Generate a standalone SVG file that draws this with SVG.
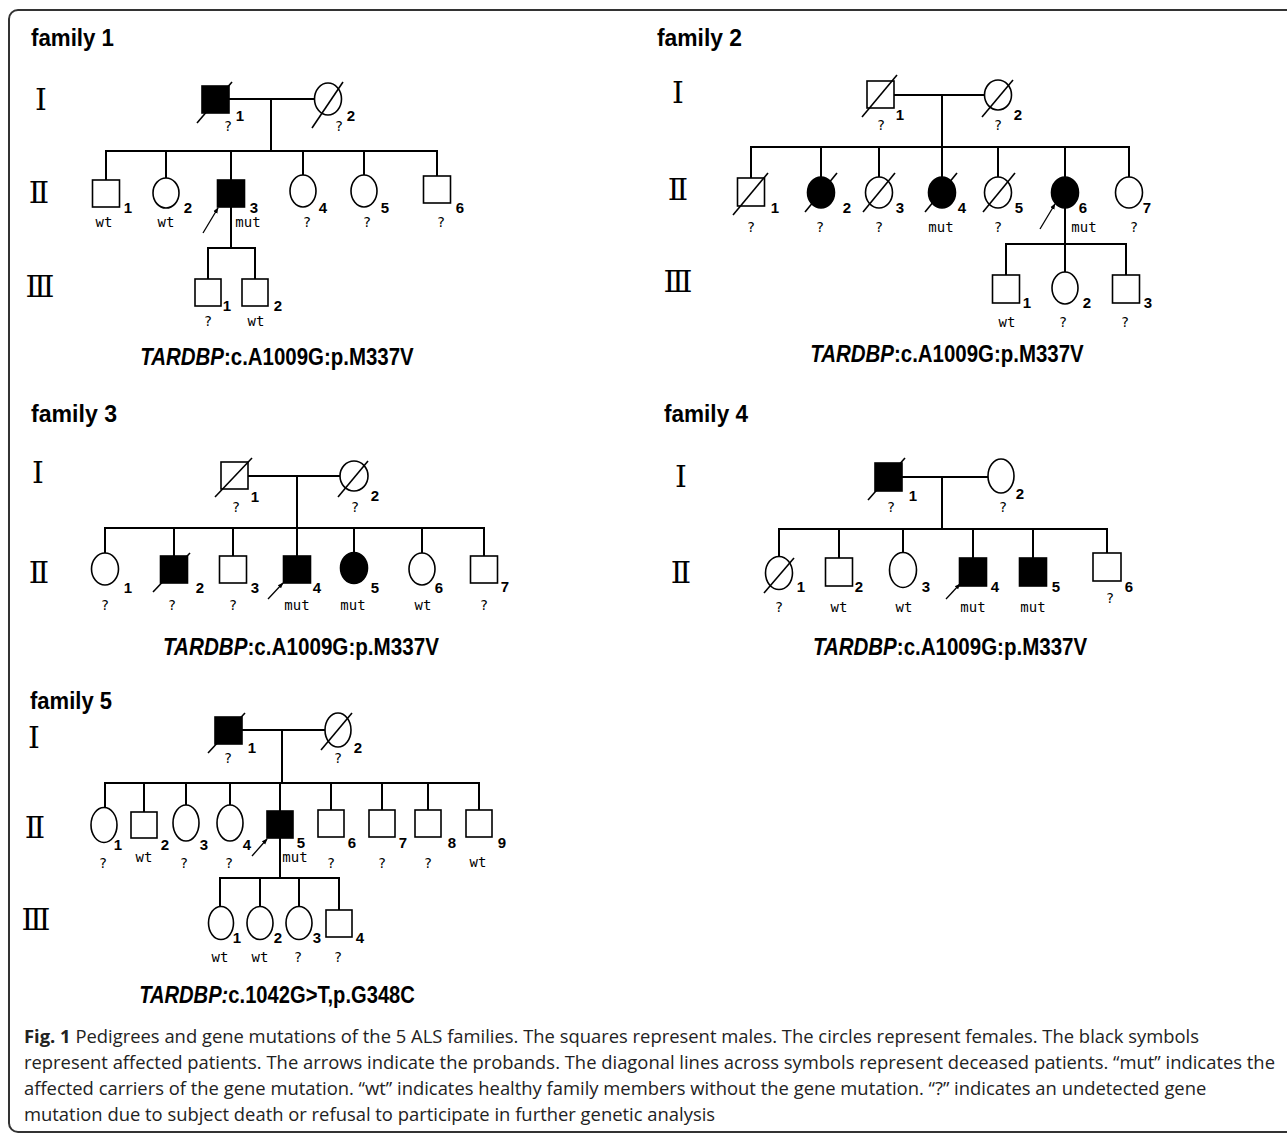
<svg xmlns="http://www.w3.org/2000/svg" width="1287" height="1134" viewBox="0 0 1287 1134">
<defs>
<style>
.ln{stroke:#000;stroke-width:2;fill:none}
.sq{stroke:#000;stroke-width:1.6;fill:#fff}
.aff{fill:#000}
.dec{stroke:#000;stroke-width:1.6}
.arw{stroke:#000;stroke-width:1.3;marker-end:url(#ah)}
.num{font-family:'Liberation Sans',Arial,sans-serif;font-weight:bold;font-size:15px;text-anchor:middle}
.lab{font-family:'DejaVu Sans Mono','Liberation Mono',monospace;font-size:14px;text-anchor:middle}
.rom{font-family:'DejaVu Serif','Noto Sans CJK SC',serif;font-size:30px;text-anchor:middle}
.ttl{font-family:'Liberation Sans',Arial,sans-serif;font-weight:bold;font-size:24px}
.gene{font-family:'Liberation Sans',Arial,sans-serif;font-weight:bold;font-size:24px;text-anchor:middle}
.cap{font-family:'Open Sans','Liberation Sans',sans-serif;font-size:18.4px;fill:#222}
</style>
<marker id="ah" viewBox="0 0 8 8" refX="7" refY="4" markerWidth="6" markerHeight="6" orient="auto" markerUnits="userSpaceOnUse">
<path d="M0,1 L8,4 L0,7 z" fill="#000"/>
</marker>
</defs>
<rect x="0" y="0" width="1287" height="1134" fill="#fff"/>
<rect x="9" y="10" width="1300" height="1122" rx="9" fill="none" stroke="#333" stroke-width="2"/>

<!-- ========== FAMILY 1 ========== -->
<g id="family1">
<text class="ttl" x="31" y="46" textLength="83" lengthAdjust="spacingAndGlyphs">family 1</text>
<text class="rom" x="41" y="110">Ⅰ</text>
<text class="rom" x="39" y="203">Ⅱ</text>
<text class="rom" x="40" y="297">Ⅲ</text>
<g id="f1-connectors" class="ln">
<line x1="229" y1="99" x2="315" y2="99"/>
<line x1="271" y1="99" x2="271" y2="151"/>
<line x1="105" y1="151" x2="438" y2="151"/>
<line x1="106" y1="151" x2="106" y2="180"/>
<line x1="166" y1="151" x2="166" y2="178"/>
<line x1="231" y1="151" x2="231" y2="180"/>
<line x1="303" y1="151" x2="303" y2="175"/>
<line x1="364" y1="151" x2="364" y2="175"/>
<line x1="437" y1="151" x2="437" y2="176"/>
<line x1="231" y1="207" x2="231" y2="248"/>
<line x1="207" y1="248" x2="256" y2="248"/>
<line x1="208" y1="248" x2="208" y2="279"/>
<line x1="255" y1="248" x2="255" y2="279"/>
</g>
<g id="f1-I-1"><rect class="sq aff" x="202" y="86" width="27" height="27"/><line class="dec" x1="197" y1="123" x2="232" y2="82"/><text class="num" x="240" y="121">1</text><text class="lab" x="228" y="131">?</text></g>
<g id="f1-I-2"><ellipse class="sq" cx="328" cy="99" rx="13.5" ry="16"/><line class="dec" x1="312" y1="128" x2="343" y2="82"/><text class="num" x="351" y="121">2</text><text class="lab" x="339" y="131">?</text></g>
<g id="f1-II-1"><rect class="sq" x="92.5" y="180" width="27" height="27"/><text class="num" x="128" y="213">1</text><text class="lab" x="104" y="227">wt</text></g>
<g id="f1-II-2"><ellipse class="sq" cx="166" cy="193" rx="13" ry="15"/><text class="num" x="188" y="213">2</text><text class="lab" x="166" y="227">wt</text></g>
<g id="f1-II-3"><rect class="sq aff" x="217.5" y="180" width="27" height="27"/><line class="arw" x1="203" y1="233" x2="218" y2="208"/><text class="num" x="254" y="213">3</text><text class="lab" x="248" y="227">mut</text></g>
<g id="f1-II-4"><ellipse class="sq" cx="303" cy="191" rx="13" ry="16"/><text class="num" x="323" y="213">4</text><text class="lab" x="307" y="227">?</text></g>
<g id="f1-II-5"><ellipse class="sq" cx="364" cy="191" rx="13" ry="16"/><text class="num" x="385" y="213">5</text><text class="lab" x="367" y="227">?</text></g>
<g id="f1-II-6"><rect class="sq" x="423.5" y="176" width="27" height="27"/><text class="num" x="460" y="213">6</text><text class="lab" x="441" y="227">?</text></g>
<g id="f1-III-1"><rect class="sq" x="195" y="279" width="26" height="27"/><text class="num" x="227" y="311">1</text><text class="lab" x="208" y="326">?</text></g>
<g id="f1-III-2"><rect class="sq" x="242" y="279" width="26" height="27"/><text class="num" x="278" y="311">2</text><text class="lab" x="256" y="326">wt</text></g>
<text class="gene" transform="translate(277,365) scale(0.852,1)"><tspan font-style="italic">TARDBP</tspan>:c.A1009G:p.M337V</text>
</g>

<!-- ========== FAMILY 2 ========== -->
<g id="family2">
<text class="ttl" x="657" y="46" textLength="85" lengthAdjust="spacingAndGlyphs">family 2</text>
<text class="rom" x="678" y="103">Ⅰ</text>
<text class="rom" x="678" y="200">Ⅱ</text>
<text class="rom" x="678" y="292">Ⅲ</text>
<g id="f2-connectors" class="ln">
<line x1="894" y1="95" x2="985" y2="95"/>
<line x1="942" y1="95" x2="942" y2="147"/>
<line x1="750" y1="147" x2="1130" y2="147"/>
<line x1="751" y1="147" x2="751" y2="178"/>
<line x1="821" y1="147" x2="821" y2="177"/>
<line x1="879" y1="147" x2="879" y2="177"/>
<line x1="942" y1="147" x2="942" y2="177"/>
<line x1="998" y1="147" x2="998" y2="177"/>
<line x1="1065" y1="147" x2="1065" y2="177"/>
<line x1="1129" y1="147" x2="1129" y2="177"/>
<line x1="1065" y1="208" x2="1065" y2="244"/>
<line x1="1005" y1="244" x2="1127" y2="244"/>
<line x1="1006" y1="244" x2="1006" y2="275"/>
<line x1="1065" y1="244" x2="1065" y2="272"/>
<line x1="1126" y1="244" x2="1126" y2="275"/>
</g>
<g id="f2-I-1"><rect class="sq" x="867" y="81" width="27" height="27"/><line class="dec" x1="862" y1="117" x2="897" y2="75"/><text class="num" x="900" y="120">1</text><text class="lab" x="881" y="130">?</text></g>
<g id="f2-I-2"><ellipse class="sq" cx="998" cy="95" rx="13.5" ry="15"/><line class="dec" x1="982" y1="117" x2="1013" y2="80"/><text class="num" x="1018" y="120">2</text><text class="lab" x="998" y="130">?</text></g>
<g id="f2-II-1"><rect class="sq" x="737.5" y="178" width="27" height="28"/><line class="dec" x1="733" y1="215" x2="768" y2="173"/><text class="num" x="775" y="213">1</text><text class="lab" x="751" y="232">?</text></g>
<g id="f2-II-2"><ellipse class="sq aff" cx="821" cy="192.5" rx="13.5" ry="15.5"/><line class="dec" x1="805" y1="212" x2="837" y2="173"/><text class="num" x="847" y="213">2</text><text class="lab" x="820" y="232">?</text></g>
<g id="f2-II-3"><ellipse class="sq" cx="879" cy="192.5" rx="13.5" ry="15.5"/><line class="dec" x1="863" y1="212" x2="895" y2="173"/><text class="num" x="900" y="213">3</text><text class="lab" x="879" y="232">?</text></g>
<g id="f2-II-4"><ellipse class="sq aff" cx="942" cy="192.5" rx="13.5" ry="15.5"/><line class="dec" x1="925" y1="212" x2="957" y2="173"/><text class="num" x="962" y="213">4</text><text class="lab" x="941" y="232">mut</text></g>
<g id="f2-II-5"><ellipse class="sq" cx="998" cy="192.5" rx="13.5" ry="15.5"/><line class="dec" x1="983" y1="212" x2="1015" y2="173"/><text class="num" x="1019" y="213">5</text><text class="lab" x="998" y="232">?</text></g>
<g id="f2-II-6"><ellipse class="sq aff" cx="1065" cy="192.5" rx="13.5" ry="15.5"/><line class="arw" x1="1040" y1="229" x2="1055" y2="204"/><text class="num" x="1083" y="213">6</text><text class="lab" x="1084" y="232">mut</text></g>
<g id="f2-II-7"><ellipse class="sq" cx="1129" cy="192.5" rx="13.5" ry="15.5"/><text class="num" x="1147" y="213">7</text><text class="lab" x="1134" y="232">?</text></g>
<g id="f2-III-1"><rect class="sq" x="992.5" y="275" width="27" height="28"/><text class="num" x="1027" y="308">1</text><text class="lab" x="1007" y="327">wt</text></g>
<g id="f2-III-2"><ellipse class="sq" cx="1065" cy="288" rx="13" ry="16"/><text class="num" x="1087" y="308">2</text><text class="lab" x="1063" y="327">?</text></g>
<g id="f2-III-3"><rect class="sq" x="1112.5" y="275" width="27" height="28"/><text class="num" x="1148" y="308">3</text><text class="lab" x="1125" y="327">?</text></g>
<text class="gene" transform="translate(947,362) scale(0.852,1)"><tspan font-style="italic">TARDBP</tspan>:c.A1009G:p.M337V</text>
</g>

<!-- ========== FAMILY 3 ========== -->
<g id="family3">
<text class="ttl" x="31" y="422" textLength="86" lengthAdjust="spacingAndGlyphs">family 3</text>
<text class="rom" x="38" y="483">Ⅰ</text>
<text class="rom" x="39" y="583">Ⅱ</text>
<g id="f3-connectors" class="ln">
<line x1="247" y1="476" x2="340" y2="476"/>
<line x1="297" y1="476" x2="297" y2="528"/>
<line x1="104" y1="528" x2="485" y2="528"/>
<line x1="105" y1="528" x2="105" y2="553"/>
<line x1="174" y1="528" x2="174" y2="556"/>
<line x1="233" y1="528" x2="233" y2="556"/>
<line x1="297" y1="528" x2="297" y2="556"/>
<line x1="354" y1="528" x2="354" y2="552"/>
<line x1="422" y1="528" x2="422" y2="553"/>
<line x1="484" y1="528" x2="484" y2="556"/>
</g>
<g id="f3-I-1"><rect class="sq" x="221" y="462" width="27" height="27"/><line class="dec" x1="215" y1="497" x2="252" y2="458"/><text class="num" x="255" y="502">1</text><text class="lab" x="236" y="512">?</text></g>
<g id="f3-I-2"><ellipse class="sq" cx="354" cy="476" rx="14" ry="15"/><line class="dec" x1="338" y1="497" x2="368" y2="461"/><text class="num" x="375" y="501">2</text><text class="lab" x="355" y="512">?</text></g>
<g id="f3-II-1"><ellipse class="sq" cx="105" cy="569" rx="13.5" ry="16"/><text class="num" x="128" y="593">1</text><text class="lab" x="105" y="610">?</text></g>
<g id="f3-II-2"><rect class="sq aff" x="160.5" y="556" width="27" height="27"/><line class="dec" x1="153" y1="592" x2="190" y2="553"/><text class="num" x="200" y="593">2</text><text class="lab" x="172" y="610">?</text></g>
<g id="f3-II-3"><rect class="sq" x="219.5" y="556" width="27" height="27"/><text class="num" x="255" y="593">3</text><text class="lab" x="233" y="610">?</text></g>
<g id="f3-II-4"><rect class="sq aff" x="283.5" y="556" width="27" height="27"/><line class="arw" x1="268" y1="599" x2="283" y2="583"/><text class="num" x="317" y="593">4</text><text class="lab" x="297" y="610">mut</text></g>
<g id="f3-II-5"><ellipse class="sq aff" cx="354" cy="568" rx="13.5" ry="15.5"/><text class="num" x="375" y="593">5</text><text class="lab" x="353" y="610">mut</text></g>
<g id="f3-II-6"><ellipse class="sq" cx="422" cy="569" rx="13" ry="16"/><text class="num" x="439" y="593">6</text><text class="lab" x="423" y="610">wt</text></g>
<g id="f3-II-7"><rect class="sq" x="470.5" y="556" width="27" height="27"/><text class="num" x="505" y="592">7</text><text class="lab" x="484" y="610">?</text></g>
<text class="gene" transform="translate(301,655) scale(0.86,1)"><tspan font-style="italic">TARDBP</tspan>:c.A1009G:p.M337V</text>
</g>

<!-- ========== FAMILY 4 ========== -->
<g id="family4">
<text class="ttl" x="664" y="422" textLength="84" lengthAdjust="spacingAndGlyphs">family 4</text>
<text class="rom" x="681" y="487">Ⅰ</text>
<text class="rom" x="681" y="583">Ⅱ</text>
<g id="f4-connectors" class="ln">
<line x1="902" y1="477" x2="988" y2="477"/>
<line x1="942" y1="477" x2="942" y2="529"/>
<line x1="778" y1="529" x2="1108" y2="529"/>
<line x1="779" y1="529" x2="779" y2="557"/>
<line x1="839" y1="529" x2="839" y2="558"/>
<line x1="903" y1="529" x2="903" y2="552"/>
<line x1="973" y1="529" x2="973" y2="558"/>
<line x1="1033" y1="529" x2="1033" y2="558"/>
<line x1="1107" y1="529" x2="1107" y2="553"/>
</g>
<g id="f4-I-1"><rect class="sq aff" x="875" y="463" width="27" height="28"/><line class="dec" x1="868" y1="500" x2="905" y2="458"/><text class="num" x="913" y="501">1</text><text class="lab" x="891" y="512">?</text></g>
<g id="f4-I-2"><ellipse class="sq" cx="1001" cy="476" rx="13" ry="17"/><text class="num" x="1020" y="499">2</text><text class="lab" x="1003" y="512">?</text></g>
<g id="f4-II-1"><ellipse class="sq" cx="779" cy="573" rx="13.5" ry="16.5"/><line class="dec" x1="764" y1="593" x2="794" y2="558"/><text class="num" x="801" y="592">1</text><text class="lab" x="779" y="612">?</text></g>
<g id="f4-II-2"><rect class="sq" x="825.5" y="558" width="27" height="28"/><text class="num" x="859" y="592">2</text><text class="lab" x="839" y="612">wt</text></g>
<g id="f4-II-3"><ellipse class="sq" cx="903" cy="570" rx="13.5" ry="17.5"/><text class="num" x="926" y="592">3</text><text class="lab" x="904" y="612">wt</text></g>
<g id="f4-II-4"><rect class="sq aff" x="959.5" y="558" width="27" height="28"/><line class="arw" x1="946" y1="599" x2="960" y2="584"/><text class="num" x="995" y="592">4</text><text class="lab" x="973" y="612">mut</text></g>
<g id="f4-II-5"><rect class="sq aff" x="1019.5" y="558" width="27" height="28"/><text class="num" x="1056" y="592">5</text><text class="lab" x="1033" y="612">mut</text></g>
<g id="f4-II-6"><rect class="sq" x="1093" y="553" width="28" height="28"/><text class="num" x="1129" y="592">6</text><text class="lab" x="1110" y="603">?</text></g>
<text class="gene" transform="translate(950,655) scale(0.855,1)"><tspan font-style="italic">TARDBP</tspan>:c.A1009G:p.M337V</text>
</g>

<!-- ========== FAMILY 5 ========== -->
<g id="family5">
<text class="ttl" x="30" y="709" textLength="82" lengthAdjust="spacingAndGlyphs">family 5</text>
<text class="rom" x="34" y="748">Ⅰ</text>
<text class="rom" x="35" y="838">Ⅱ</text>
<text class="rom" x="36" y="930">Ⅲ</text>
<g id="f5-connectors" class="ln">
<line x1="242" y1="730" x2="325" y2="730"/>
<line x1="282" y1="730" x2="282" y2="783"/>
<line x1="104" y1="783" x2="480" y2="783"/>
<line x1="105" y1="783" x2="105" y2="808"/>
<line x1="144" y1="783" x2="144" y2="812"/>
<line x1="186" y1="783" x2="186" y2="805"/>
<line x1="230" y1="783" x2="230" y2="805"/>
<line x1="280" y1="783" x2="280" y2="811"/>
<line x1="331" y1="783" x2="331" y2="810"/>
<line x1="382" y1="783" x2="382" y2="810"/>
<line x1="428" y1="783" x2="428" y2="810"/>
<line x1="479" y1="783" x2="479" y2="810"/>
<line x1="280" y1="838" x2="280" y2="878"/>
<line x1="219" y1="878" x2="340" y2="878"/>
<line x1="220" y1="878" x2="220" y2="907"/>
<line x1="260" y1="878" x2="260" y2="907"/>
<line x1="299" y1="878" x2="299" y2="907"/>
<line x1="339" y1="878" x2="339" y2="910"/>
</g>
<g id="f5-I-1"><rect class="sq aff" x="215" y="717" width="27" height="27"/><line class="dec" x1="208" y1="753" x2="245" y2="713"/><text class="num" x="252" y="753">1</text><text class="lab" x="228" y="763">?</text></g>
<g id="f5-I-2"><ellipse class="sq" cx="338" cy="730" rx="13" ry="17"/><line class="dec" x1="321" y1="750" x2="352" y2="713"/><text class="num" x="358" y="753">2</text><text class="lab" x="338" y="763">?</text></g>
<g id="f5-II-1"><ellipse class="sq" cx="104" cy="825" rx="13" ry="17.5"/><text class="num" x="118" y="850">1</text><text class="lab" x="103" y="868">?</text></g>
<g id="f5-II-2"><rect class="sq" x="131" y="812" width="26" height="26"/><text class="num" x="165" y="850">2</text><text class="lab" x="144" y="862">wt</text></g>
<g id="f5-II-3"><ellipse class="sq" cx="186" cy="823" rx="13" ry="18"/><text class="num" x="204" y="850">3</text><text class="lab" x="184" y="868">?</text></g>
<g id="f5-II-4"><ellipse class="sq" cx="230" cy="823" rx="13" ry="18"/><text class="num" x="247" y="850">4</text><text class="lab" x="229" y="868">?</text></g>
<g id="f5-II-5"><rect class="sq aff" x="267" y="811" width="26" height="27"/><line class="arw" x1="252" y1="856" x2="267" y2="839"/><text class="num" x="301" y="848">5</text><text class="lab" x="295" y="862">mut</text></g>
<g id="f5-II-6"><rect class="sq" x="318" y="810" width="26" height="27"/><text class="num" x="352" y="848">6</text><text class="lab" x="331" y="868">?</text></g>
<g id="f5-II-7"><rect class="sq" x="369" y="810" width="26" height="27"/><text class="num" x="403" y="848">7</text><text class="lab" x="382" y="868">?</text></g>
<g id="f5-II-8"><rect class="sq" x="415" y="810" width="26" height="27"/><text class="num" x="452" y="848">8</text><text class="lab" x="428" y="868">?</text></g>
<g id="f5-II-9"><rect class="sq" x="466" y="810" width="26" height="27"/><text class="num" x="502" y="848">9</text><text class="lab" x="478" y="867">wt</text></g>
<g id="f5-III-1"><ellipse class="sq" cx="221" cy="923" rx="12.5" ry="16.5"/><text class="num" x="237" y="943">1</text><text class="lab" x="220" y="962">wt</text></g>
<g id="f5-III-2"><ellipse class="sq" cx="260" cy="923" rx="13" ry="16.5"/><text class="num" x="278" y="943">2</text><text class="lab" x="260" y="962">wt</text></g>
<g id="f5-III-3"><ellipse class="sq" cx="299" cy="923" rx="13" ry="16.5"/><text class="num" x="317" y="943">3</text><text class="lab" x="298" y="962">?</text></g>
<g id="f5-III-4"><rect class="sq" x="326" y="910" width="26" height="27"/><text class="num" x="360" y="943">4</text><text class="lab" x="338" y="962">?</text></g>
<text class="gene" transform="translate(277,1003) scale(0.84,1)"><tspan font-style="italic">TARDBP:</tspan>c.1042G&gt;T,p.G348C</text>
</g>

<!-- ========== CAPTION ========== -->
<g id="caption">
<text class="cap" x="24" y="1043"><tspan font-weight="bold">Fig. 1</tspan> Pedigrees and gene mutations of the 5 ALS families. The squares represent males. The circles represent females. The black symbols</text>
<text class="cap" x="24" y="1069">represent affected patients. The arrows indicate the probands. The diagonal lines across symbols represent deceased patients. “mut” indicates the</text>
<text class="cap" x="24" y="1095">affected carriers of the gene mutation. “wt” indicates healthy family members without the gene mutation. “?” indicates an undetected gene</text>
<text class="cap" x="24" y="1121">mutation due to subject death or refusal to participate in further genetic analysis</text>
</g>
</svg>
